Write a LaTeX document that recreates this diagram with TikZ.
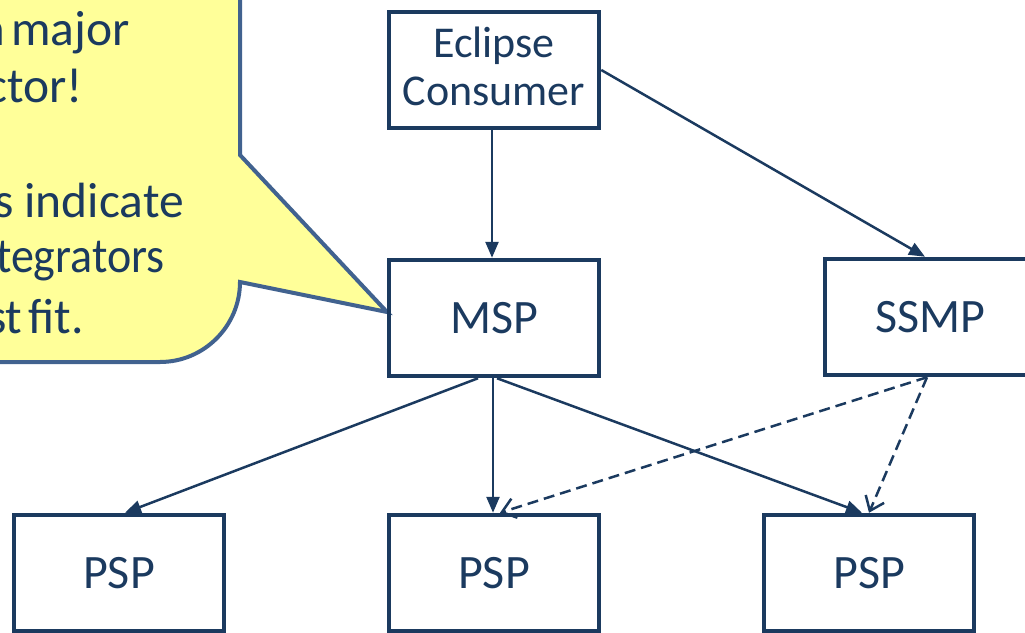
\documentclass[tikz,border=0pt]{standalone}
\usepackage{fontspec}
\usepackage{graphicx}
\setmainfont{Carlito}
\usetikzlibrary{arrows.meta,calc}
\definecolor{navy}{HTML}{1B3A5F}
\definecolor{calloutborder}{HTML}{41628F}
\definecolor{calloutfill}{HTML}{FFFF99}
\newcommand\myTightSpace{\spaceskip 6pt\relax}
\newcommand\myNormalSpace{\spaceskip 0pt\relax}
\begin{document}
\begin{tikzpicture}[x=1pt,y=-1pt,
  box/.style={draw=navy, line width=4.5pt, minimum width=210pt, minimum height=116pt,
    text=navy, font=\fontsize{48}{52}\selectfont, align=center, inner sep=0pt},
  conn/.style={draw=navy, line width=2.5pt, -{Triangle[length=16pt,width=13pt]}},
  dconn/.style={draw=navy, line width=2.5pt, dash pattern=on 11pt off 6pt,
    -{Straight Barb[length=13pt,width=20pt,line width=2.5pt]}},
  calltext/.style={anchor=base east, text=navy, font=\fontsize{49.5}{57}\selectfont\myTightSpace, inner sep=0pt}]
\useasboundingbox (0,0) rectangle (1025,632);
\clip (0,0) rectangle (1025,632);
% callout
\draw[fill=calloutfill, draw=calloutborder, line width=4pt, line join=miter]
  (-10,-10) -- (240,-10) -- (240,155) -- (387,312) -- (240,282)
  .. controls (240,326) and (204,362) .. (160,362) -- (-10,362) -- cycle;
\node[calltext] (t1) at (130,45) {a major};
\node[calltext] (t2) at (83,102) {ctor!};
\node[calltext, font=\fontsize{49.5}{57}\selectfont\myNormalSpace] (t3) at (184,217) {s indicate};
\node[calltext] (t4) at (165,272) {\scalebox{0.93}[1]{tegrators}};
\node[calltext] (t5) at (84,333) {st fit.};
% boxes
\node[box, font=\fontsize{44}{48}\selectfont] (cons) at (494,70) {Eclipse\\Consumer\\[-40pt]\mbox{}};
\node[box] (msp) at (494,318) {MSP};
\node[box] (ssmp) at (930,317) {SSMP};
\node[box] (psp1) at (119,573) {PSP};
\node[box] (psp2) at (494,573) {PSP};
\node[box] (psp3) at (869,573) {PSP};
% connectors
\draw[conn] ($(cons.south)+(-2,0)$) -- ($(msp.north)+(-2,0)$);
\draw[conn] ($(cons.east)+(0,0)$) -- ($(ssmp.north)+(-5,0)$);
\draw[conn] ($(msp.south)+(-16,0)$) -- ($(psp1.north)+(6,0)$);
\draw[conn] ($(msp.south)+(-1,0)$) -- ($(psp2.north)+(-1,0)$);
\draw[conn] ($(msp.south)+(3,0)$) -- ($(psp3.north)+(-7,0)$);
\draw[dconn] ($(ssmp.south)+(-3,0)$) -- ($(psp2.north)+(6,0)$);
\draw[dconn] ($(ssmp.south)+(-3,0)$) -- ($(psp3.north)+(0,0)$);
\end{tikzpicture}
\end{document}
